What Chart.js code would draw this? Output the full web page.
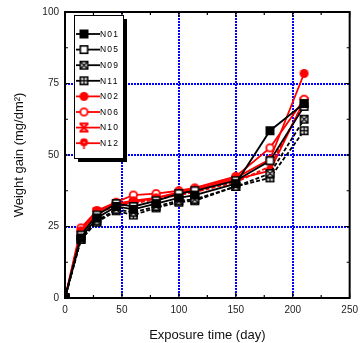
<!DOCTYPE html>
<html><head><meta charset="utf-8">
<script src="https://cdn.jsdelivr.net/npm/chart.js@4.4.1/dist/chart.umd.min.js"></script>
<style>html,body{margin:0;padding:0;background:#fff}#wrap{width:364px;height:343px;position:relative}</style>
</head><body><div id="wrap"><canvas id="c" width="364" height="343"></canvas></div>
<script>
const days = [0, 14, 28, 45, 60, 80, 100, 114, 150, 180, 210];
const seriesNames = ['N01','N05','N09','N11','N02','N06','N10','N12'];
const N01 = [0, 21, 28, 32, 31, 33, 35, 36, 40, 58.5, 68];
const N05 = [0, 22, 29, 33, 32, 34, 36.5, 37.5, 41, 48, 67];
const N09 = [0, 20.5, 27, 31, 30, 32, 34, 34.5, 39, 43.5, 62.5];
const N11 = [0, 20.5, 26.5, 30.5, 29, 31.5, 33.5, 34, 39, 42, 58.5];
const N02 = [0, 23.5, 30.5, 33, 34, 35, 37, 38, 42, 48.5, 78.5];
const N06 = [0, 24.5, 30.5, 33.5, 36, 36.5, 37.5, 38.5, 42.5, 52.5, 69.5];
const N10 = [0, 22, 30, 32, 33, 34.5, 36, 37, 40.5, 46, 68.5];
const N12 = [0, 22.5, 30, 32.5, 33.5, 35, 36.5, 37.5, 41.5, 44.5, 69];
const xTicks = [0, 50, 100, 150, 200, 250];
const yTicks = [0, 25, 50, 75, 100];

function mk(draw){const c=document.createElement('canvas');c.width=11;c.height=11;const g=c.getContext('2d');draw(g);return c;}
const RED='#ff0000';
const markers = {
  N01: mk(g=>{g.fillStyle='#000';g.fillRect(1,1,9,9);}),
  N05: mk(g=>{g.fillStyle='#fff';g.fillRect(1,1,9,9);g.strokeStyle='#000';g.lineWidth=1.6;g.strokeRect(1.8,1.8,7.4,7.4);}),
  N09: mk(g=>{g.fillStyle='#fff';g.fillRect(1,1,9,9);g.strokeStyle='#000';g.lineWidth=1.6;g.strokeRect(1.8,1.8,7.4,7.4);g.lineWidth=1.3;g.beginPath();g.moveTo(2,2);g.lineTo(9,9);g.moveTo(9,2);g.lineTo(2,9);g.stroke();}),
  N11: mk(g=>{g.fillStyle='#fff';g.fillRect(1,1,9,9);g.strokeStyle='#000';g.lineWidth=1.6;g.strokeRect(1.8,1.8,7.4,7.4);g.lineWidth=1.3;g.beginPath();g.moveTo(5.5,2);g.lineTo(5.5,9);g.moveTo(2,5.5);g.lineTo(9,5.5);g.stroke();}),
  N02: mk(g=>{g.fillStyle=RED;g.beginPath();g.arc(5.5,5.5,4.5,0,Math.PI*2);g.fill();}),
  N06: mk(g=>{g.fillStyle='#fff';g.strokeStyle=RED;g.lineWidth=1.8;g.beginPath();g.arc(5.5,5.5,3.7,0,Math.PI*2);g.fill();g.stroke();}),
  N10: mk(g=>{g.strokeStyle=RED;g.lineWidth=2;g.beginPath();g.moveTo(1.5,1.5);g.lineTo(9.5,9.5);g.moveTo(9.5,1.5);g.lineTo(1.5,9.5);g.moveTo(1,1.5);g.lineTo(10,1.5);g.moveTo(1,9.5);g.lineTo(10,9.5);g.stroke();}),
  N12: mk(g=>{g.fillStyle=RED;g.beginPath();g.arc(5.5,4.5,4,0,Math.PI*2);g.fill();g.fillStyle='#fff';g.fillRect(5,4,1.2,1.2);g.strokeStyle=RED;g.lineWidth=1.6;g.beginPath();g.moveTo(5.5,8);g.lineTo(5.5,11);g.stroke();})
};
const styles = {
  N01:{c:'#000',dash:[]}, N05:{c:'#000',dash:[]}, N09:{c:'#000',dash:[4,2]}, N11:{c:'#000',dash:[4,2]},
  N02:{c:RED,dash:[]}, N06:{c:RED,dash:[]}, N10:{c:RED,dash:[4,2]}, N12:{c:RED,dash:[]}
};
const values = {N01,N05,N09,N11,N02,N06,N10,N12};

const datasets = seriesNames.map(n=>({
  label:n,
  data: days.map((d,i)=>({x:d,y:values[n][i]})),
  borderColor: styles[n].c, borderWidth:1.8, borderDash: styles[n].dash,
  pointStyle: markers[n], pointRadius:5, pointHoverRadius:5, tension:0, fill:false
}));
const frame = {
  id:'frame',
  afterDatasetsDraw(chart){
    const {ctx, chartArea:a, scales:{x,y}} = chart;
    ctx.save();
    ctx.strokeStyle='#000'; ctx.lineWidth=2; ctx.setLineDash([]);
    ctx.strokeRect(a.left, a.top, a.right-a.left, a.bottom-a.top);
    ctx.lineWidth=1.2;
    ctx.beginPath();
    for(let v=0; v<=250; v+=25){
      const px=x.getPixelForValue(v); const L = v%50===0?5:3;
      ctx.moveTo(px,a.bottom); ctx.lineTo(px,a.bottom-L);
      ctx.moveTo(px,a.top); ctx.lineTo(px,a.top+L);
    }
    for(let v=0; v<=100; v+=12.5){
      const py=y.getPixelForValue(v); const L = v%25===0?5:3;
      ctx.moveTo(a.left,py); ctx.lineTo(a.left+L,py);
      ctx.moveTo(a.right,py); ctx.lineTo(a.right-L,py);
    }
    ctx.stroke();
    // legend
    const lx=74, ly=15, lw=49, lh=143;
    ctx.fillStyle='#000'; ctx.fillRect(lx+4, ly+4, lw, lh);
    ctx.fillStyle='#fff'; ctx.fillRect(lx, ly, lw, lh);
    ctx.strokeStyle='#000'; ctx.lineWidth=1; ctx.strokeRect(lx+0.5, ly+0.5, lw, lh);
    ctx.font='8.5px "Liberation Sans", Arial, sans-serif';
    ctx.textBaseline='middle'; ctx.textAlign='left';
    try{ ctx.letterSpacing='1.2px'; }catch(e){}
    seriesNames.forEach((n,i)=>{
      const yy = ly + 19 + i*15.6;
      ctx.strokeStyle=styles[n].c; ctx.lineWidth=1.8; ctx.setLineDash([]);
      ctx.beginPath(); ctx.moveTo(lx+2,yy); ctx.lineTo(lx+26,yy); ctx.stroke();
      ctx.drawImage(markers[n], lx+10-5.5, yy-5.5);
      ctx.fillStyle='#000';
      ctx.fillText(n, lx+26, yy+0.5);
    });
    ctx.restore();
  }
};

new Chart(document.getElementById('c'), {
  type:'line',
  data:{datasets},
  plugins:[frame],
  options:{
    responsive:false, animation:false, devicePixelRatio:1,
    layout:{padding:{left:0,right:9,top:12,bottom:0}},
    plugins:{legend:{display:false}, tooltip:{enabled:false}},
    scales:{
      x:{type:'linear', min:0, max:250,
        afterBuildTicks(s){ s.ticks = xTicks.map(v=>({value:v})); },
        afterFit(s){ s.height=45; },
        grid:{color:c=>(c.tick && c.tick.value>0 && c.tick.value<250)?'#0000ff':'rgba(0,0,0,0)', lineWidth:2, drawTicks:false},
        border:{display:false, dash:[2,1]},
        ticks:{color:'#222', padding:6, font:{family:'"Liberation Sans", Arial, sans-serif', size:10}, maxRotation:0},
        title:{display:true, text:'Exposure time (day)', color:'#111', padding:{top:4,bottom:0}, font:{family:'"Liberation Sans", Arial, sans-serif', size:13}}
      },
      y:{type:'linear', min:0, max:100,
        afterBuildTicks(s){ s.ticks = yTicks.map(v=>({value:v})); },
        afterFit(s){ s.width=65; },
        grid:{color:c=>(c.tick && c.tick.value>0 && c.tick.value<100)?'#0000ff':'rgba(0,0,0,0)', lineWidth:2, drawTicks:false},
        border:{display:false, dash:[2,1]},
        ticks:{color:'#222', padding:6, font:{family:'"Liberation Sans", Arial, sans-serif', size:10}},
        title:{display:true, text:'Weight gain (mg/dm²)', color:'#111', padding:{top:12,bottom:0}, font:{family:'"Liberation Sans", Arial, sans-serif', size:13}}
      }
    }
  }
});
</script></body></html>
